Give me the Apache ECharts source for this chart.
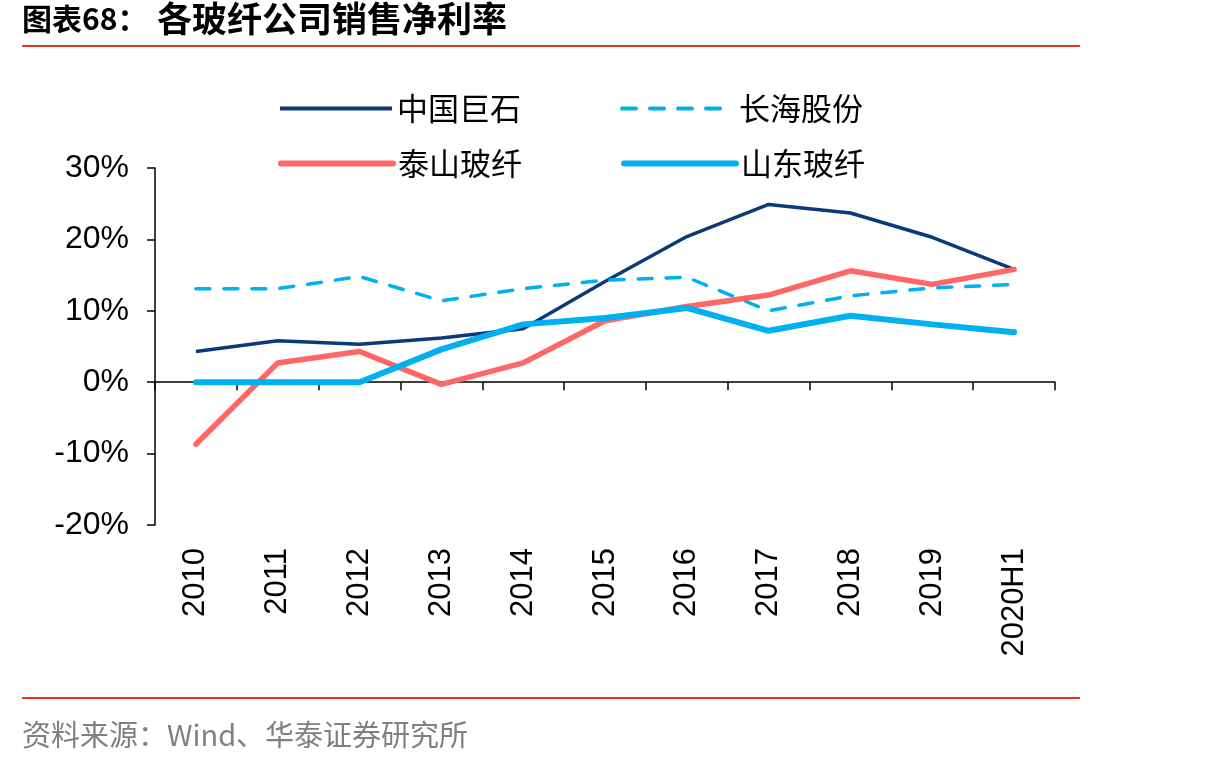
<!DOCTYPE html>
<html>
<head>
<meta charset="utf-8">
<script src="https://cdn.jsdelivr.net/npm/echarts@6/dist/echarts.min.js"></script>
<style>
html, body { margin: 0; padding: 0; background: #fff; }
#main { width: 1210px; height: 767px; }
</style>
</head>
<body>
<div id="main"></div>
<script>
// 年份
var years = ['2010', '2011', '2012', '2013', '2014', '2015', '2016', '2017', '2018', '2019', '2020H1'];
// 销售净利率 (%)
var jushi = [4.3, 5.8, 5.3, 6.2, 7.5, 14.1, 20.4, 24.9, 23.7, 20.3, 15.8];
var changhai = [13.1, 13.1, 14.8, 11.4, 13.1, 14.3, 14.7, 10.0, 12.1, 13.2, 13.7];
var taishan = [-8.7, 2.7, 4.3, -0.3, 2.7, 8.6, 10.6, 12.2, 15.6, 13.7, 15.8];
var shandong = [0, 0, 0, 4.6, 8.1, 9.0, 10.4, 7.2, 9.3, 8.1, 7.0];

var myChart = echarts.init(document.getElementById('main'));
var cjk = '"Noto Sans CJK SC", sans-serif';
var latin = '"Liberation Sans", Arial, sans-serif';

var legendText = { fontFamily: cjk, fontSize: 31, color: '#000' };
var navy = '#0B3A78', sky = '#00B0F0', salmon = '#FF6666';

var option = {
    animation: false,
    textStyle: { fontFamily: latin },
    graphic: [
        {
            type: 'text', left: 22, top: 4,
            style: { text: '图表68：', font: 'bold 30px ' + cjk, fill: '#000' }
        },
        {
            type: 'text', left: 157, top: 1,
            style: { text: '各玻纤公司销售净利率', font: 'bold 35px ' + cjk, fill: '#000' }
        },
        {
            type: 'line', shape: { x1: 22, y1: 46, x2: 1080, y2: 46 },
            style: { stroke: '#E8332A', lineWidth: 2 }
        },
        {
            type: 'line', shape: { x1: 22, y1: 698, x2: 1080, y2: 698 },
            style: { stroke: '#E8332A', lineWidth: 2 }
        },
        {
            type: 'text', left: 22, top: 720,
            style: { text: '资料来源：Wind、华泰证券研究所', font: '29px ' + cjk, fill: '#808080' }
        }
    ],
    legend: [
        {
            data: [
                { name: '中国巨石', lineStyle: { width: 4 } },
                { name: '长海股份', lineStyle: { width: 4 } }
            ],
            left: 273, top: 88,
            itemWidth: 112, itemHeight: 20, itemGap: 99,
            itemStyle: { opacity: 0 },
            textStyle: legendText
        },
        {
            data: [
                { name: '泰山玻纤', lineStyle: { width: 6 } },
                { name: '山东玻纤', lineStyle: { width: 6 } }
            ],
            left: 273, top: 143,
            itemWidth: 112, itemHeight: 20, itemGap: 99,
            itemStyle: { opacity: 0 },
            textStyle: legendText
        }
    ],
    grid: { left: 155, right: 155, top: 168, bottom: 242 },
    xAxis: [
        {
            type: 'category',
            data: years,
            axisLine: { onZero: true, lineStyle: { color: '#000', width: 1.5 } },
            axisTick: { show: true, length: 8, lineStyle: { color: '#000', width: 1.5 } },
            axisLabel: { show: false }
        },
        {
            type: 'category',
            data: years,
            position: 'bottom',
            axisLine: { show: false, onZero: false },
            axisTick: { show: false },
            axisLabel: { rotate: 90, margin: 23, fontSize: 31, color: '#000', fontFamily: latin }
        }
    ],
    yAxis: {
        type: 'value',
        min: -20, max: 30, interval: 10,
        axisLine: { show: true, lineStyle: { color: '#000', width: 1.5 } },
        axisTick: { show: true, length: 8, lineStyle: { color: '#000', width: 1.5 } },
        axisLabel: { formatter: '{value}%', fontSize: 32, color: '#000', margin: 26, fontFamily: latin },
        splitLine: { show: false }
    },
    series: [
        {
            name: '中国巨石', type: 'line', data: jushi, symbol: 'none',
            lineStyle: { color: navy, width: 3.5 }, itemStyle: { color: navy }
        },
        {
            name: '长海股份', type: 'line', data: changhai, symbol: 'none',
            lineStyle: { color: sky, width: 3.5, type: [14, 14], cap: 'round' }, itemStyle: { color: sky }
        },
        {
            name: '泰山玻纤', type: 'line', data: taishan, symbol: 'none',
            lineStyle: { color: salmon, width: 5.5, cap: 'round' }, itemStyle: { color: salmon }
        },
        {
            name: '山东玻纤', type: 'line', data: shandong, symbol: 'none',
            lineStyle: { color: sky, width: 6, cap: 'round' }, itemStyle: { color: sky }
        }
    ]
};

myChart.setOption(option);
window.onresize = myChart.resize;
</script>
</body>
</html>
